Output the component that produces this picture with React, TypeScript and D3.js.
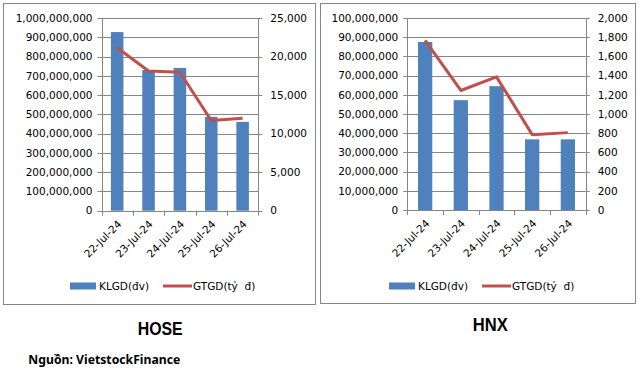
import React from "react";
import * as d3 from "d3";

const dates = ["22-Jul-24", "23-Jul-24", "24-Jul-24", "25-Jul-24", "26-Jul-24"];
const hoseVolume = [927000000, 730000000, 741000000, 487000000, 461000000];
const hoseValue = [21150, 18130, 17960, 11700, 12000];
const hnxVolume = [87500000, 57200000, 64500000, 36800000, 36800000];
const hnxValue = [1767, 1245, 1387, 785, 806];
const hoseLeftTicks = d3.range(0, 1000000001, 100000000);
const hoseRightTicks = d3.range(0, 25001, 5000);
const hnxLeftTicks = d3.range(0, 100000001, 10000000);
const hnxRightTicks = d3.range(0, 2001, 200);
const legendBar = "KLGD(đv)";
const legendLine = "GTGD(tỷ  đ)";

const BLUE = "#4F81BD";
const RED = "#C0504D";
const GRID = "#868686";
const FONT = "DejaVu Sans, Verdana, sans-serif";

const fmt = d3.format(",");

type PanelProps = {
  box: [number, number, number, number];
  plot: { left: number; right: number; top: number; bottom: number };
  volume: number[];
  value: number[];
  leftTicks: number[];
  rightTicks: number[];
  legendX: number;
  legendGap: number;
};

function Panel(p: PanelProps) {
  const { plot } = p;
  const x = d3.scaleBand<string>().domain(dates).range([plot.left, plot.right]).paddingInner(0.6).paddingOuter(0.3);
  const xc = d3.scaleBand<string>().domain(dates).range([plot.left, plot.right]);
  const yL = d3.scaleLinear().domain([0, p.leftTicks[p.leftTicks.length - 1]]).range([plot.bottom, plot.top]);
  const yR = d3.scaleLinear().domain([0, p.rightTicks[p.rightTicks.length - 1]]).range([plot.bottom, plot.top]);
  const line = d3
    .line<number>()
    .x((_, i) => (xc(dates[i]) as number) + xc.bandwidth() / 2)
    .y((d) => yR(d));
  const [bx, by, bw, bh] = p.box;
  const ly = 286;
  return (
    <g>
      <rect x={bx} y={by} width={bw} height={bh} fill="#fff" stroke={GRID} strokeWidth={1} />
      {p.leftTicks.map((t) => (
        <line key={"g" + t} x1={plot.left - 4} x2={plot.right} y1={Math.round(yL(t)) + 0.5} y2={Math.round(yL(t)) + 0.5} stroke={GRID} strokeWidth={1} />
      ))}
      {p.rightTicks.map((t) => (
        <line key={"r" + t} x1={plot.right} x2={plot.right + 4} y1={Math.round(yR(t)) + 0.5} y2={Math.round(yR(t)) + 0.5} stroke={GRID} strokeWidth={1} />
      ))}
      <line x1={Math.round(plot.left) + 0.5} x2={Math.round(plot.left) + 0.5} y1={plot.top} y2={plot.bottom} stroke={GRID} />
      <line x1={Math.round(plot.right) + 0.5} x2={Math.round(plot.right) + 0.5} y1={plot.top} y2={plot.bottom} stroke={GRID} />
      {d3.range(dates.length + 1).map((i) => {
        const xx = Math.round(plot.left + (i * (plot.right - plot.left)) / dates.length) + 0.5;
        return <line key={"xt" + i} x1={xx} x2={xx} y1={plot.bottom} y2={plot.bottom + 5} stroke={GRID} />;
      })}
      {p.volume.map((v, i) => (
        <rect key={"b" + i} x={x(dates[i])} y={yL(v)} width={x.bandwidth()} height={plot.bottom - yL(v)} fill={BLUE} />
      ))}
      <path d={line(p.value) || ""} fill="none" stroke={RED} strokeWidth={3} strokeLinejoin="round" />
      {p.leftTicks.map((t) => (
        <text key={"lt" + t} x={plot.left - 9} y={yL(t)} dy="0.36em" textAnchor="end" fontSize={10.5} fontFamily={FONT} fill="#000">
          {fmt(t)}
        </text>
      ))}
      {p.rightTicks.map((t) => (
        <text key={"rt" + t} x={plot.right + 12} y={yR(t)} dy="0.36em" textAnchor="start" fontSize={10.5} fontFamily={FONT} fill="#000">
          {fmt(t)}
        </text>
      ))}
      {dates.map((d) => {
        const cx = (xc(d) as number) + xc.bandwidth() / 2 + 5;
        const cy = plot.bottom + 14;
        return (
          <text key={"xl" + d} x={cx} y={cy} textAnchor="end" fontSize={10.5} fontFamily={FONT} transform={`rotate(-45 ${cx} ${cy})`}>
            {d}
          </text>
        );
      })}
      <rect x={p.legendX} y={ly - 3.5} width={26} height={7} fill={BLUE} />
      <text x={p.legendX + 29} y={ly} dy="0.36em" fontSize={10.5} fontFamily={FONT}>
        {legendBar}
      </text>
      <line x1={p.legendX + p.legendGap} x2={p.legendX + p.legendGap + 29} y1={ly} y2={ly} stroke={RED} strokeWidth={3} />
      <text x={p.legendX + p.legendGap + 30} y={ly} dy="0.36em" fontSize={10.5} fontFamily={FONT} style={{ whiteSpace: "pre" }}>
        {legendLine}
      </text>
    </g>
  );
}

export default function App() {
  return (
    <svg width={639} height={373} style={{ position: "absolute", left: 0, top: 0, background: "#fff" }}>
      <Panel
        box={[3.5, 3.5, 312, 301]}
        plot={{ left: 101.5, right: 258.3, top: 18, bottom: 210.7 }}
        volume={hoseVolume}
        value={hoseValue}
        leftTicks={hoseLeftTicks}
        rightTicks={hoseRightTicks}
        legendX={70}
        legendGap={93}
      />
      <Panel
        box={[320.5, 3.5, 315, 300]}
        plot={{ left: 407.3, right: 585.7, top: 18, bottom: 210 }}
        volume={hnxVolume}
        value={hnxValue}
        leftTicks={hnxLeftTicks}
        rightTicks={hnxRightTicks}
        legendX={389}
        legendGap={93}
      />
      <text x={137.7} y={335} fontSize={19} textLength={45} lengthAdjust="spacingAndGlyphs" fontFamily="Liberation Sans, Arial, sans-serif" fontWeight="bold" fill="#000">
        HOSE
      </text>
      <text x={472.7} y={331} fontSize={18.5} textLength={35} lengthAdjust="spacingAndGlyphs" fontFamily="Liberation Sans, Arial, sans-serif" fontWeight="bold" fill="#000">
        HNX
      </text>
      <text x={28.3} y={364} fontSize={12} textLength={152} lengthAdjust="spacingAndGlyphs" fontFamily="Noto Sans, sans-serif" fontWeight="bold" fill="#000">
        Nguồn: VietstockFinance
      </text>
    </svg>
  );
}
